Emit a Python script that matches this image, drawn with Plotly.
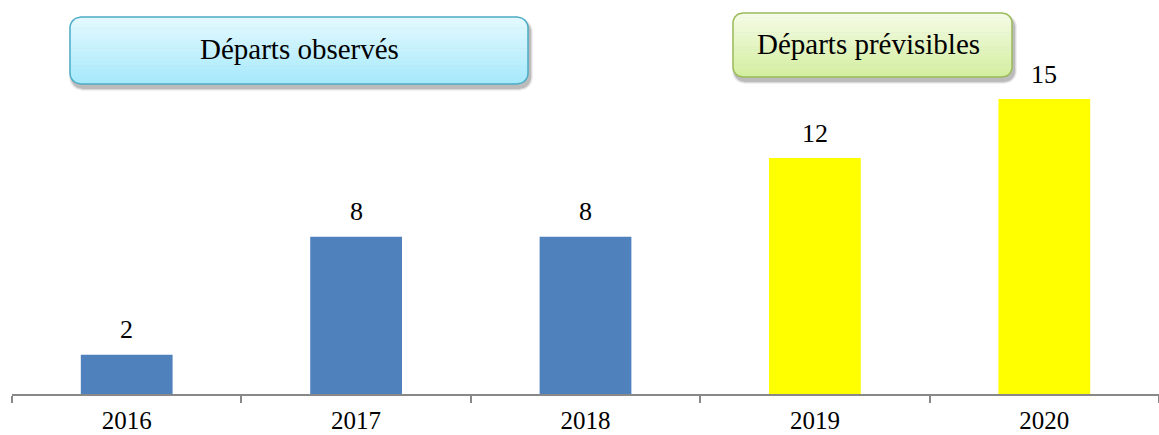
import math
import plotly.graph_objects as go

# Departures per year: observed (2016-2018) and forecast (2019-2020)
years = ["2016", "2017", "2018", "2019", "2020"]
departures = [2, 8, 8, 12, 15]
bar_colors = ["#4f81bd", "#4f81bd", "#4f81bd", "#ffff00", "#ffff00"]

W, H = 1159, 435
ML, MR, MT, MB = 12, 0, 40, 41
PW, PH = W - ML - MR, H - MT - MB
SERIF = "Liberation Serif"


def to_paper(px, py):
    return (px - ML) / PW, (H - MB - py) / PH


def edge_x(x0, x1, y0, y1, r, y):
    # horizontal extent of a rounded rectangle at pixel height y
    if y < y0 + r:
        d = y0 + r - y
    elif y > y1 - r:
        d = y - (y1 - r)
    else:
        d = 0.0
    d = min(d, r)
    off = r - math.sqrt(max(r * r - d * d, 0.0))
    return x0 + off, x1 - off


def slice_path(x0, x1, y0, y1, r, ya, yb, steps=6):
    ys = [ya + (yb - ya) * i / steps for i in range(steps + 1)]
    left = [(edge_x(x0, x1, y0, y1, r, y)[0], y) for y in ys]
    right = [(edge_x(x0, x1, y0, y1, r, y)[1], y) for y in reversed(ys)]
    pts = [to_paper(px, py) for px, py in left + right]
    return "M " + " L ".join(f"{a:.5f},{b:.5f}" for a, b in pts) + " Z"


def rounded_path(x0, x1, y0, y1, r):
    return slice_path(x0, x1, y0, y1, r, y0, y1, steps=60)


def mix(c0, c1, t):
    a = [int(c0[i:i + 2], 16) for i in (1, 3, 5)]
    b = [int(c1[i:i + 2], 16) for i in (1, 3, 5)]
    return "#" + "".join(f"{round(u + (v - u) * t):02x}" for u, v in zip(a, b))


def panel(x0, x1, y0, y1, r, top, bottom, border):
    shapes = []
    # soft drop shadow
    for k, a in enumerate([0.06, 0.09, 0.14]):
        g = 3 - k
        shapes.append(dict(type="path", xref="paper", yref="paper",
                           path=rounded_path(x0 + 2 - g, x1 + 2 + g, y0 + 4 - g, y1 + 4 + g, r + g),
                           fillcolor=f"rgba(0,0,0,{a})", line=dict(width=0), layer="above"))
    n = 30
    for i in range(n):
        ya = y0 + (y1 - y0) * i / n
        yb = y0 + (y1 - y0) * (i + 1) / n + 0.6
        yb = min(yb, y1)
        shapes.append(dict(type="path", xref="paper", yref="paper",
                           path=slice_path(x0, x1, y0, y1, r, ya, yb),
                           fillcolor=mix(top, bottom, i / (n - 1)), line=dict(width=0), layer="above"))
    shapes.append(dict(type="path", xref="paper", yref="paper",
                       path=rounded_path(x0, x1, y0, y1, r),
                       fillcolor="rgba(0,0,0,0)", line=dict(color=border, width=1.5), layer="above"))
    return shapes


fig = go.Figure(go.Bar(
    x=years, y=departures, marker=dict(color=bar_colors, line=dict(width=0)),
    hoverinfo="x+y",
))

shapes = []
shapes += panel(70, 528, 17, 84, 11, "#e4f9ff", "#a6e9fb", "#4bacc6")
shapes += panel(733, 1012, 13, 77, 10, "#f5fbe6", "#d3eea0", "#9bbb59")

annotations = [
    dict(text="Départs observés", x=to_paper(299, 0)[0], y=to_paper(0, 49)[1],
         xref="paper", yref="paper", xanchor="center", yanchor="middle", showarrow=False,
         font=dict(family=SERIF, size=29, color="black")),
    dict(text="Départs prévisibles", x=to_paper(868, 0)[0], y=to_paper(0, 44)[1],
         xref="paper", yref="paper", xanchor="center", yanchor="middle", showarrow=False,
         font=dict(family=SERIF, size=29, color="black")),
]
# value labels above each bar (category axis positions are serial indices)
for i, v in enumerate(departures):
    annotations.append(dict(text=str(v), x=i, y=v, xref="x", yref="y",
                            xanchor="center", yanchor="middle", yshift=25, showarrow=False,
                            font=dict(family=SERIF, size=26, color="black")))

fig.update_layout(
    width=W, height=H, margin=dict(l=ML, r=MR, t=MT, b=MB, autoexpand=False),
    paper_bgcolor="white", plot_bgcolor="white",
    bargap=0.6, showlegend=False,
    shapes=shapes, annotations=annotations,
    font=dict(family=SERIF, size=26, color="black"),
)
fig.update_xaxes(type="category", categoryorder="array", categoryarray=years,
                 range=[-0.5, len(years) - 0.5],
                 showline=True, linecolor="#888888", linewidth=1.5,
                 ticks="outside", tickson="boundaries", ticklen=7, tickcolor="#888888",
                 tickwidth=1.5, showgrid=False, ticklabelstandoff=3, tickangle=0,
                 tickfont=dict(family=SERIF, size=25, color="black"))
fig.update_yaxes(range=[0, 18], visible=False, showgrid=False)

fig.write_html("out.html")
